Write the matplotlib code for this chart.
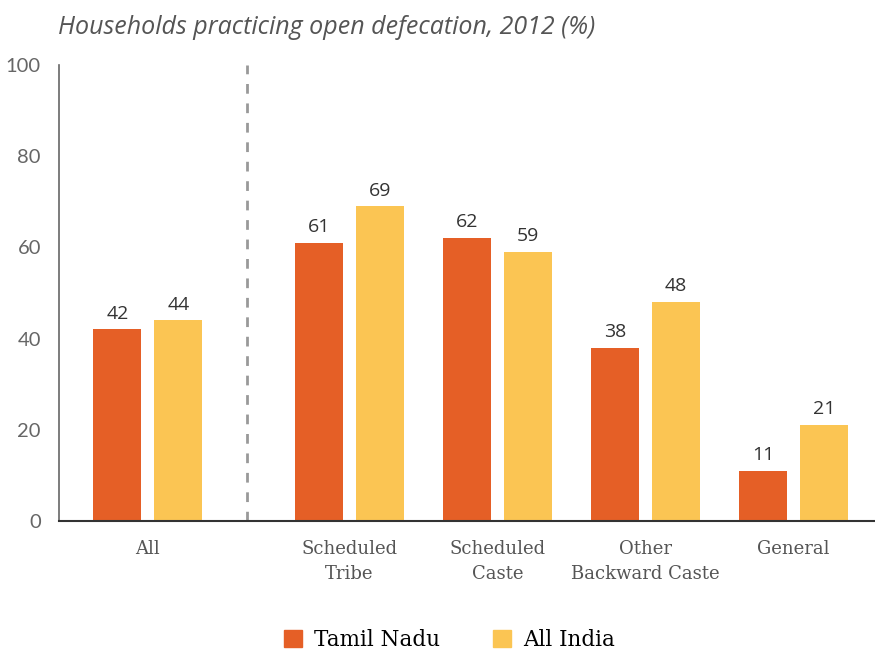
import numpy as np
import matplotlib.pyplot as plt
from matplotlib.patches import Patch

categories = ["All", "Scheduled\nTribe", "Scheduled\nCaste", "Other\nBackward Caste", "General"]
tamil_nadu = [42, 61, 62, 38, 11]
all_india = [44, 69, 59, 48, 21]
series_names = ["Tamil Nadu", "All India"]

orange = "#E55F26"
yellow = "#FBC553"

fig = plt.figure(figsize=(8.75, 6.5), dpi=100)
ax = fig.add_axes([0.0674, 0.1985, 0.9326, 0.7015])

# first group stands apart from the rest
x = np.array([0, 1.36, 2.36, 3.36, 4.36])
w = 0.324
off = 0.206

b1 = ax.bar(x - off, tamil_nadu, w, color=orange)
b2 = ax.bar(x + off, all_india, w, color=yellow)

for bars, vals in [(b1, tamil_nadu), (b2, all_india)]:
    for b, v in zip(bars, vals):
        ax.text(b.get_x() + b.get_width() / 2, v + 1.5, str(v), ha="center", va="bottom",
                fontsize=14, family="Open Sans", color="#333333")

ax.axvline(0.67, color="#999999", lw=2, ls=(0, (3.5, 3.5)))

ax.set_xlim(-0.6, 4.91)
ax.set_ylim(0, 100)
ax.set_yticks(range(0, 101, 20))
ax.set_xticks(x)
ax.set_xticklabels(categories, family="DejaVu Serif", fontsize=13, color="#555555",
                   linespacing=1.5)
ax.tick_params(axis="both", length=0)
ax.tick_params(axis="x", pad=14)
ax.tick_params(axis="y", pad=13)
for lab in ax.get_yticklabels():
    lab.set_family("Lato")
    lab.set_fontsize(14.5)
    lab.set_color("#666666")

for s in ["top", "right"]:
    ax.spines[s].set_visible(False)
ax.spines["left"].set_color("#666666")
ax.spines["left"].set_linewidth(1.2)
ax.spines["bottom"].set_color("#333333")
ax.spines["bottom"].set_linewidth(1.5)

fig.text(0.066, 0.948, "Households practicing open defecation, 2012 (%)", fontsize=18,
         style="italic", family="Open Sans", color="#555555", va="baseline")

handles = [Patch(color=orange), Patch(color=yellow)]
fig.legend(handles, series_names, loc="center", bbox_to_anchor=(0.514, 0.016), ncol=2,
           frameon=False, handlelength=0.84, handleheight=0.84, handletextpad=0.56,
           columnspacing=2.45, prop={"family": "DejaVu Serif", "size": 15.5})

fig.savefig("out.png", dpi=100)
